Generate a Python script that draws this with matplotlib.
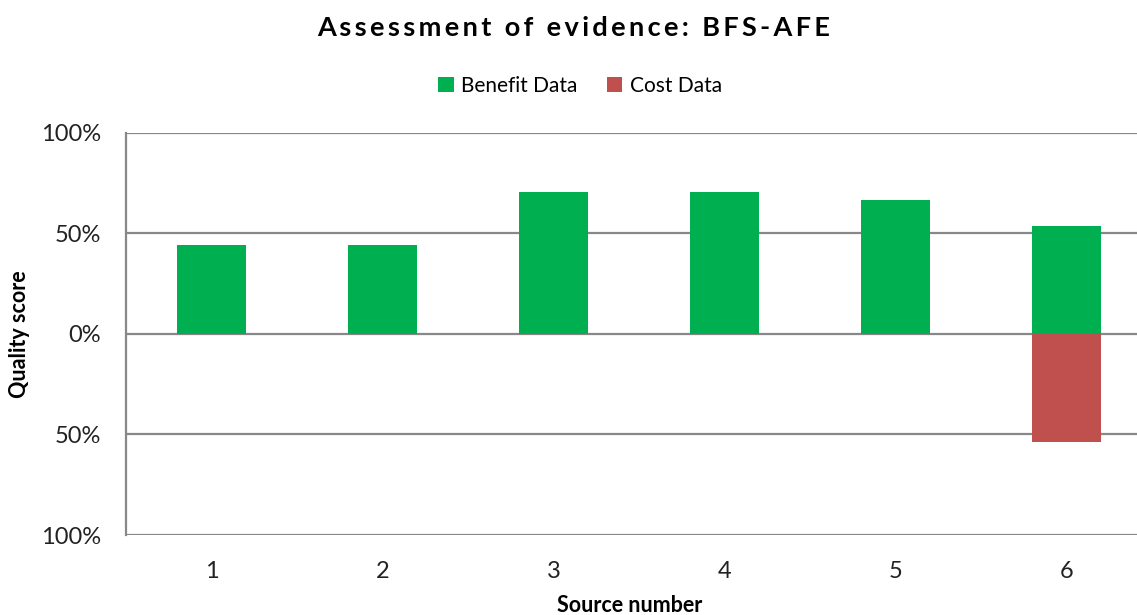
import matplotlib
matplotlib.use("Agg")
import matplotlib.pyplot as plt
from matplotlib.patches import Patch
import numpy as np

sources = ["1", "2", "3", "4", "5", "6"]
benefit = [0.445, 0.445, 0.705, 0.705, 0.665, 0.537]
cost = [0, 0, 0, 0, 0, -0.537]
ytick_vals = [-1.0, -0.5, 0.0, 0.5, 1.0]
ytick_labels = ["100%", "50%", "0%", "50%", "100%"]

GREEN = "#00B050"
RED = "#C0504D"
GRID = "#888888"
FONT = "Lato"

plt.rcParams["font.family"] = [FONT, "DejaVu Sans"]

W, H = 1137, 615
fig = plt.figure(figsize=(W / 100, H / 100), dpi=100)
left, right = 126, 1137
top, bottom = 133, 535
ax = fig.add_axes([left / W, (H - bottom) / H, (right - left) / W, (bottom - top) / H])

x = np.arange(1, len(sources) + 1)
spacing_px = 171
ax.set_xlim(0.5, 0.5 + (right - left) / spacing_px)
ax.set_ylim(-1.0, 1.0)

for y in ytick_vals:
    ax.axhline(y, color=GRID, lw=1.6, zorder=1)

ax.bar(x, benefit, width=0.4, color=GREEN, zorder=2, label="Benefit Data")
ax.bar(x[5:], cost[5:], width=0.4, color=RED, zorder=2, label="Cost Data")

for s in ["top", "right", "bottom"]:
    ax.spines[s].set_visible(False)
ax.spines["left"].set_color(GRID)
ax.spines["left"].set_linewidth(1.6)

ax.set_yticks(ytick_vals)
ax.set_yticklabels(ytick_labels, fontsize=17, color="#222222")
ax.set_xticks(x)
ax.set_xticklabels(sources, fontsize=17, color="#222222")
ax.tick_params(axis="both", length=0)
ax.tick_params(axis="y", pad=18)
ax.tick_params(axis="x", pad=19)

ax.set_ylabel("Quality score", fontsize=15.5, fontweight="bold")
ax.yaxis.set_label_coords((20 - left) / (right - left), 0.5)
ax.set_xlabel("Source number", fontsize=15.5, fontweight="bold")
ax.xaxis.set_label_coords(0.5 + (630 - 631.5) / (right - left), (bottom - 605) / (bottom - top))
ax.xaxis.label.set_va("center")
ax.yaxis.label.set_va("center")

title = "Assessment of evidence: BFS-AFE"
spaced = "\u2009".join(ch if ch != " " else " " for ch in title)
fig.text(574 / W, 1 - 28 / H, spaced, ha="center", va="center", fontsize=19.5, fontweight="bold")

handles = [Patch(facecolor=GREEN, label="Benefit Data"), Patch(facecolor=RED, label="Cost Data")]
fig.legend(handles=handles, loc="center", bbox_to_anchor=(580 / W, 1 - 86 / H), ncol=2,
           frameon=False, fontsize=15, handlelength=0.75, handleheight=0.75,
           handletextpad=0.35, columnspacing=1.4)

fig.savefig("out.png", dpi=100)
